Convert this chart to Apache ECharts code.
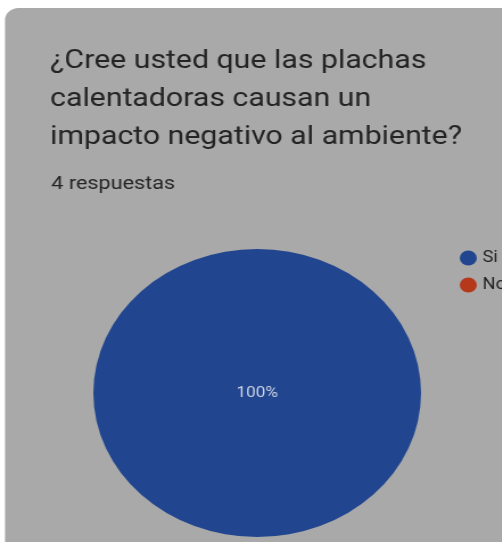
<!DOCTYPE html>
<html>
<head>
<meta charset="utf-8">
<script src="https://cdn.jsdelivr.net/npm/echarts@6/dist/echarts.min.js"></script>
<style>
  html, body { margin: 0; padding: 0; background: #ffffff; overflow: hidden; }
  #wrap { width: 502px; height: 542px; overflow: hidden; position: relative; }
  /* la captura original esta estirada en horizontal */
  #chart { width: 441px; height: 542px; transform: scaleX(1.138); transform-origin: 0 0; }
</style>
</head>
<body>
<div id="wrap"><div id="chart"></div></div>
<script>
// pregunta y respuestas
const titulo = '¿Cree usted que las plachas\ncalentadoras causan un\nimpacto negativo al ambiente?';
const respuestasTxt = '4 respuestas';

// opciones y cantidad de respuestas
const opciones = ['Si', 'No'];
const valores = [4, 0];
const colores = ['#21468f', '#b5381a'];

const chart = echarts.init(document.getElementById('chart'));

// datos del pie
let datos = opciones.map((o, i) => ({
  name: o,
  value: valores[i],
  label: { show: valores[i] > 0 }
}));

chart.setOption({
  animation: false,
  backgroundColor: '#ffffff',
  graphic: [{
    type: 'rect',
    z: -1,
    shape: { x: 4.4, y: 8, width: 460, height: 540, r: [12, 0, 0, 0] },
    style: { fill: '#a9a9a9' }
  }],
  title: [{
    text: titulo,
    left: 39,
    top: 37,
    textStyle: { fontFamily: 'Roboto', fontSize: 26.6, fontWeight: 'normal', color: '#242424', lineHeight: 38 }
  }, {
    text: respuestasTxt,
    left: 40,
    top: 170,
    textStyle: { fontFamily: 'Roboto', fontSize: 19, fontWeight: 'normal', color: '#262626' }
  }],
  legend: {
    orient: 'vertical',
    left: 399,
    top: 245,
    icon: 'circle',
    itemWidth: 15,
    itemHeight: 15,
    itemGap: 11,
    textStyle: { fontFamily: 'Roboto', fontSize: 16, color: '#222' },
    data: opciones
  },
  color: colores,
  series: [{
    type: 'pie',
    center: [226, 393],
    radius: ['0%', 144],
    stillShowZeroSum: true,
    emphasis: { disabled: true },
    label: {
      position: 'center',
      formatter: '{d}%',
      fontFamily: 'Roboto',
      fontSize: 15,
      color: '#cdd3e3'
    },
    labelLine: { show: false },
    itemStyle: { borderWidth: 0 },
    data: datos
  }]
});
</script>
</body>
</html>
